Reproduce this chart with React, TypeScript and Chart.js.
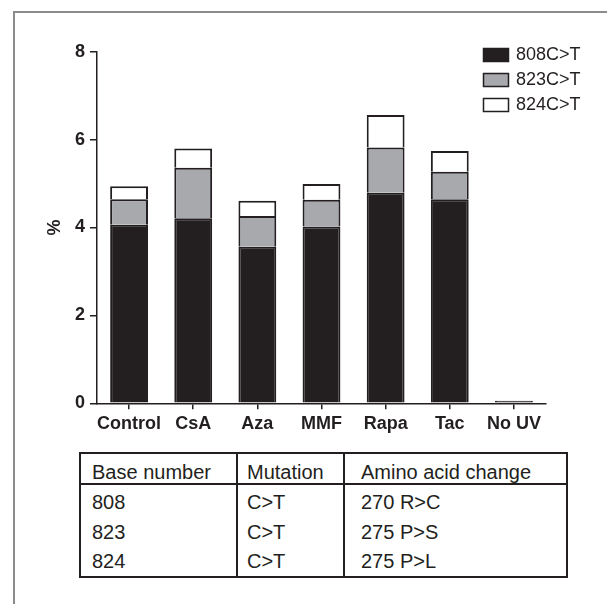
import React, { useEffect, useRef } from "react";
import { Chart, registerables } from "chart.js";

Chart.register(...registerables);

const categories = ["Control", "CsA", "Aza", "MMF", "Rapa", "Tac", "No UV"];
const series808 = [4.06, 4.21, 3.56, 4.02, 4.79, 4.64, 0.06];
const series823 = [0.58, 1.15, 0.7, 0.61, 1.03, 0.63, null];
const series824 = [0.3, 0.44, 0.35, 0.36, 0.74, 0.47, null];
const seriesLabels = ["808C>T", "823C>T", "824C>T"];
const yTicks = [0, 2, 4, 6, 8];

const tableHeader = ["Base number", "Mutation", "Amino acid change"];
const tableBase = ["808", "823", "824"];
const tableMutation = ["C>T", "C>T", "C>T"];
const tableAmino = ["270 R>C", "275 P>S", "275 P>L"];

const INK = "#231f20";
const GRAY = "#a7a9ac";
const FONT = "'Liberation Sans', Arial, Helvetica, sans-serif";

const legendPlugin = {
  id: "customLegend",
  afterDraw(chart: any) {
    const ctx = chart.ctx;
    ctx.save();
    chart.data.datasets.forEach((ds: any, i: number) => {
      const x = 483.5;
      const y = 48.5 + i * 25;
      ctx.fillStyle = ds.backgroundColor;
      ctx.fillRect(x, y, 25, 13);
      ctx.strokeStyle = INK;
      ctx.lineWidth = 1.5;
      ctx.strokeRect(x, y, 25, 13);
      ctx.fillStyle = INK;
      ctx.font = `18px ${FONT}`;
      ctx.textBaseline = "middle";
      ctx.textAlign = "left";
      ctx.fillText(ds.label, 516, y + 7);
    });
    ctx.restore();
  },
};

export default function App() {
  const ref = useRef<HTMLCanvasElement | null>(null);

  useEffect(() => {
    if (!ref.current) return;
    const fills = [INK, GRAY, "#ffffff"];
    const values = [series808, series823, series824];
    const chart = new Chart(ref.current, {
      type: "bar",
      data: {
        labels: categories,
        datasets: values.map((v, i) => ({
          label: seriesLabels[i],
          data: v,
          backgroundColor: fills[i],
          borderColor: INK,
          borderWidth: 2,
          barPercentage: 0.59,
          categoryPercentage: 1,
        })),
      },
      options: {
        responsive: false,
        animation: false,
        devicePixelRatio: 1,
        layout: { padding: { left: 0, right: 61, top: 51.7, bottom: 1.7 } },
        plugins: { legend: { display: false }, tooltip: { enabled: false } },
        scales: {
          x: {
            stacked: true,
            offset: true,
            grid: {
              drawOnChartArea: false,
              offset: false,
              tickLength: 6,
              color: INK,
              lineWidth: 1.5,
            },
            border: { color: INK, width: 1.5 },
            ticks: {
              color: INK,
              font: { family: FONT, size: 18, weight: "bold" },
              padding: 4,
              maxRotation: 0,
              autoSkip: false,
            },
            afterFit: (s: any) => {
              s.height = 40;
            },
          },
          y: {
            stacked: true,
            min: 0,
            max: 8,
            afterBuildTicks: (s: any) => {
              s.ticks = yTicks.map((v) => ({ value: v }));
            },
            grid: {
              drawOnChartArea: false,
              tickLength: 7,
              color: INK,
              lineWidth: 1.5,
            },
            border: { color: INK, width: 1.5 },
            ticks: {
              color: INK,
              font: { family: FONT, size: 18, weight: "bold" },
              padding: 5,
            },
            title: {
              display: true,
              text: "%",
              color: INK,
              font: { family: FONT, size: 18, weight: "bold" },
              padding: { top: 44, bottom: 0 },
            },
            afterFit: (s: any) => {
              s.width = 97;
            },
          },
        },
      },
      plugins: [legendPlugin],
    } as any);
    return () => chart.destroy();
  }, []);

  const cellText: React.CSSProperties = {
    position: "absolute",
    fontFamily: FONT,
    fontSize: 20,
    lineHeight: "20px",
    color: INK,
    whiteSpace: "nowrap",
  };
  const colX = [11, 166, 280];
  const rowTops = [7.5, 38.3, 67.8, 96.8];
  const rows = [tableHeader, ...tableBase.map((b, i) => [b, tableMutation[i], tableAmino[i]])];

  return (
    <div style={{ position: "absolute", left: 0, top: 0, width: 607, height: 604, background: "#fff", overflow: "hidden" }}>
      <div style={{ position: "absolute", left: 13, top: 11, width: 594, height: 2, background: "#8c8c8c" }} />
      <div style={{ position: "absolute", left: 13, top: 11, width: 2, height: 593, background: "#8c8c8c" }} />
      <canvas ref={ref} width={607} height={445} style={{ position: "absolute", left: 0, top: 0, width: 607, height: 445 }} />
      <div
        style={{
          position: "absolute",
          left: 79,
          top: 452,
          width: 489,
          height: 126,
          boxSizing: "border-box",
          border: `2px solid ${INK}`,
        }}
      >
        <div style={{ position: "absolute", left: 0, top: 29, width: "100%", height: 2, background: INK }} />
        <div style={{ position: "absolute", left: 154.5, top: 0, width: 2, height: "100%", background: INK }} />
        <div style={{ position: "absolute", left: 262, top: 0, width: 2, height: "100%", background: INK }} />
        {rows.map((r, ri) =>
          r.map((t, ci) => (
            <div key={`${ri}-${ci}`} style={{ ...cellText, left: colX[ci], top: rowTops[ri] }}>
              {t}
            </div>
          ))
        )}
      </div>
    </div>
  );
}
